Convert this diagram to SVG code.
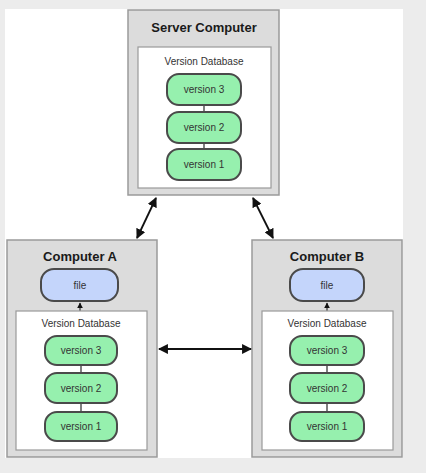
<svg xmlns="http://www.w3.org/2000/svg" width="426" height="473" viewBox="0 0 426 473">
<defs>
<style>
.comp{fill:#dcdcdc;stroke:#9a9a9a;stroke-width:1.5}
.db{fill:#ffffff;stroke:#9a9a9a;stroke-width:1.2}
.ver{fill:#96f0ae;stroke:#4a4a4a;stroke-width:2}
.file{fill:#c4d5fb;stroke:#4a4a4a;stroke-width:2}
.title{font-family:"Liberation Sans",Arial,sans-serif;font-weight:bold;font-size:13px;fill:#1a1a1a;text-anchor:middle}
.lbl{font-family:"Liberation Sans",Arial,sans-serif;font-size:10px;fill:#333;text-anchor:middle}
.link{stroke:#555;stroke-width:1.5;fill:none}
.arr{stroke:#111;stroke-width:1.8;fill:none}
</style>
<marker id="ah" viewBox="0 0 10 10" refX="9" refY="5" markerWidth="5.5" markerHeight="5.5" orient="auto-start-reverse">
<path d="M0,0 L10,5 L0,10 z" fill="#111"/>
</marker>
<marker id="sa" viewBox="0 0 10 10" refX="9" refY="5" markerWidth="4" markerHeight="4" orient="auto">
<path d="M0,0 L10,5 L0,10 z" fill="#111"/>
</marker>
</defs>
<rect x="0" y="0" width="426" height="473" fill="#ececec"/>
<rect x="5" y="9" width="398" height="449" fill="#ffffff"/>

<g id="server">
<rect class="comp" x="128" y="10" width="151" height="185"/>
<text class="title" x="204" y="32">Server Computer</text>
<rect class="db" x="138" y="47" width="133" height="141"/>
<text class="lbl" x="204" y="65">Version Database</text>
<line class="link" x1="204" y1="105" x2="204" y2="112"/>
<line class="link" x1="204" y1="143" x2="204" y2="149"/>
<rect class="ver" x="167" y="74" width="74" height="31" rx="12"/>
<text class="lbl" x="204" y="93">version 3</text>
<rect class="ver" x="167" y="112" width="74" height="31" rx="12"/>
<text class="lbl" x="204" y="131">version 2</text>
<rect class="ver" x="167" y="149" width="74" height="31" rx="12"/>
<text class="lbl" x="204" y="168">version 1</text>
</g>

<g id="computerA">
<rect class="comp" x="7" y="240" width="150" height="217"/>
<text class="title" x="80" y="261">Computer A</text>
<rect class="file" x="41" y="269" width="77" height="32" rx="13"/>
<text class="lbl" x="80" y="289">file</text>
<line class="link" x1="80" y1="311" x2="80" y2="303" marker-end="url(#sa)"/>
<rect class="db" x="16" y="311" width="131" height="139"/>
<text class="lbl" x="81" y="327">Version Database</text>
<line class="link" x1="81" y1="365" x2="81" y2="373"/>
<line class="link" x1="81" y1="403" x2="81" y2="412"/>
<rect class="ver" x="45" y="336" width="72" height="29" rx="12"/>
<text class="lbl" x="81" y="354">version 3</text>
<rect class="ver" x="45" y="373" width="72" height="30" rx="12"/>
<text class="lbl" x="81" y="392">version 2</text>
<rect class="ver" x="45" y="412" width="72" height="29" rx="12"/>
<text class="lbl" x="81" y="430">version 1</text>
</g>

<g id="computerB">
<rect class="comp" x="252" y="240" width="150" height="217"/>
<text class="title" x="327" y="261">Computer B</text>
<rect class="file" x="290" y="269" width="74" height="32" rx="13"/>
<text class="lbl" x="327" y="289">file</text>
<line class="link" x1="327" y1="311" x2="327" y2="303" marker-end="url(#sa)"/>
<rect class="db" x="262" y="311" width="131" height="139"/>
<text class="lbl" x="327" y="327">Version Database</text>
<line class="link" x1="327" y1="365" x2="327" y2="373"/>
<line class="link" x1="327" y1="403" x2="327" y2="412"/>
<rect class="ver" x="290" y="336" width="74" height="29" rx="12"/>
<text class="lbl" x="327" y="354">version 3</text>
<rect class="ver" x="290" y="373" width="74" height="30" rx="12"/>
<text class="lbl" x="327" y="392">version 2</text>
<rect class="ver" x="290" y="412" width="74" height="29" rx="12"/>
<text class="lbl" x="327" y="430">version 1</text>
</g>

<g id="connectors">
<line class="arr" x1="156" y1="198" x2="137" y2="238" marker-start="url(#ah)" marker-end="url(#ah)"/>
<line class="arr" x1="253" y1="198" x2="273" y2="238" marker-start="url(#ah)" marker-end="url(#ah)"/>
<line class="arr" x1="159" y1="349" x2="251" y2="349" marker-start="url(#ah)" marker-end="url(#ah)"/>
</g>
</svg>
